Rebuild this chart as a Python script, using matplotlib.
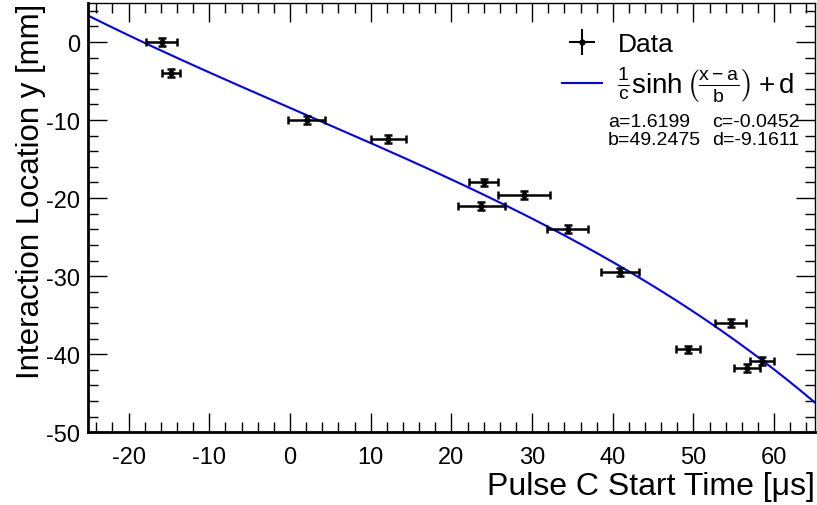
import numpy as np
import matplotlib.pyplot as plt
from matplotlib.ticker import MultipleLocator
from matplotlib.lines import Line2D

plt.rcParams['font.family'] = ['Liberation Sans', 'DejaVu Sans']
plt.rcParams['mathtext.fontset'] = 'custom'
plt.rcParams['mathtext.rm'] = 'Liberation Sans'
plt.rcParams['mathtext.it'] = 'Liberation Sans'
plt.rcParams['mathtext.bf'] = 'Liberation Sans:bold'
plt.rcParams['axes.unicode_minus'] = False

# === Data ===
t_start = [-15.9, -14.7, 2.1, 12.2, 24.0, 23.7, 29.0, 34.4, 40.9, 54.6, 49.3, 56.6, 58.5]
t_err = [1.9, 1.1, 2.3, 2.2, 1.8, 2.9, 3.2, 2.5, 2.3, 1.9, 1.5, 1.6, 1.5]
y_loc = [0.0, -4.0, -10.0, -12.4, -18.0, -21.0, -19.6, -24.0, -29.5, -36.0, -39.4, -41.8, -40.9]
y_err = [0.5, 0.5, 0.5, 0.5, 0.5, 0.5, 0.5, 0.5, 0.5, 0.5, 0.5, 0.5, 0.5]

# === Fit parameters ===
fit_a = 1.6199
fit_b = 49.2475
fit_c = -0.0452
fit_d = -9.1611

fig = plt.figure(figsize=(8.17, 5.06), dpi=100)
ax = fig.add_axes([0.108, 0.144, 0.889, 0.848])

xx = np.linspace(-25, 65, 400)
ax.plot(xx, np.sinh((xx - fit_a) / fit_b) / fit_c + fit_d, color='#0000ff', lw=1.5, zorder=2)

ax.errorbar(t_start, y_loc, xerr=t_err, yerr=y_err, fmt='o', ms=3.5, color='black',
            ecolor='black', elinewidth=1.8, capsize=3, capthick=1.8, zorder=3)

ax.set_xlim(-25, 65)
ax.set_ylim(-50, 5)
ax.xaxis.set_major_locator(MultipleLocator(10))
ax.xaxis.set_minor_locator(MultipleLocator(2))
ax.yaxis.set_major_locator(MultipleLocator(10))
ax.yaxis.set_minor_locator(MultipleLocator(2))
ax.tick_params(which='both', direction='in', top=True, right=True, labelsize=17, width=1)
ax.tick_params(which='major', length=14)
ax.tick_params(which='minor', length=7)
ax.tick_params(axis='x', which='major', pad=10)
ax.tick_params(axis='y', which='major', pad=6)
for side in ['left', 'bottom']:
    ax.spines[side].set_linewidth(2)
for side in ['right', 'top']:
    ax.spines[side].set_linewidth(1)

ax.set_xlabel("Pulse C Start Time [μs]", fontsize=23, loc='right', labelpad=2)
ax.set_ylabel("Interaction Location y [mm]", fontsize=22.5, loc='top', labelpad=0)

# === Legend ===
data_h = ax.errorbar([], [], xerr=[], yerr=[], fmt='o', ms=3.5, color='black',
                     elinewidth=1.5, capsize=3, capthick=1.5)
fit_h = Line2D([0], [0], color='#0000ff', lw=1.5)
leg = ax.legend([data_h, fit_h],
                ['Data', r'$\frac{1}{c}\mathrm{sinh}\,\left(\frac{x-a}{b}\right)+\mathrm{d}$'],
                loc='upper left', bbox_to_anchor=(562 / 817, 1 - 33 / 506),
                bbox_transform=fig.transFigure, frameon=False, borderpad=0, borderaxespad=0,
                fontsize=19, handlelength=1.5, handletextpad=0.6, labelspacing=0.32)
leg.get_texts()[1].set_fontsize(20)

fig.text(608 / 817, 1 - 114 / 506, "a=1.6199\nb=49.2475", ha='left', va='top',
         fontsize=14, linespacing=1.08)
fig.text(712 / 817, 1 - 114 / 506, "c=-0.0452\nd=-9.1611", ha='left', va='top',
         fontsize=14, linespacing=1.08)

plt.savefig("out.png", dpi=100)
